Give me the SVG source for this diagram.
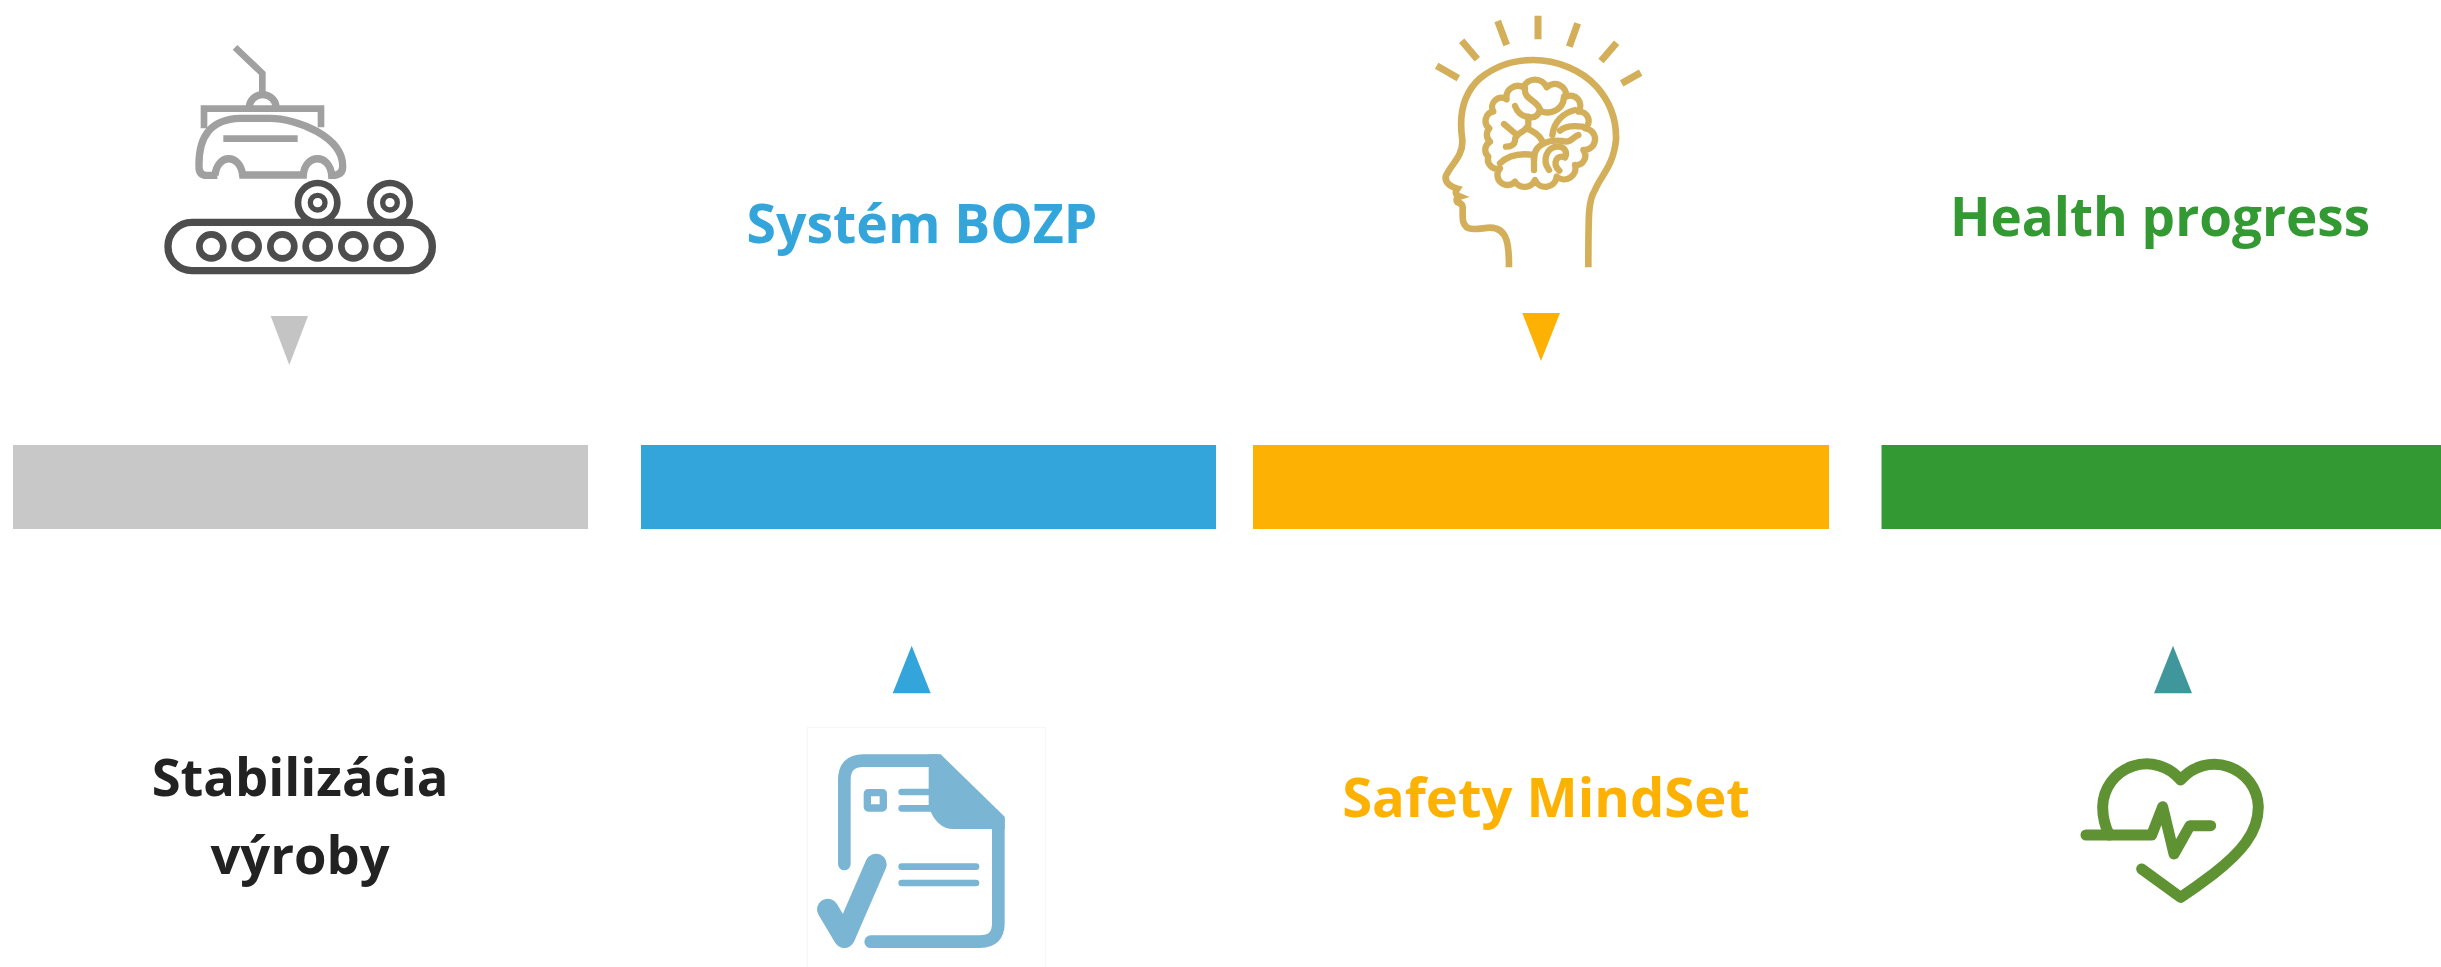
<svg xmlns="http://www.w3.org/2000/svg" width="2441" height="967" viewBox="0 0 2441 967">
<style>
.t{font-family:"Open Sans","Liberation Sans",sans-serif;font-weight:700;text-anchor:middle}
.l{fill:none;stroke-linecap:round;stroke-linejoin:round}
</style>
<rect width="2441" height="967" fill="#fff"/>
<g id="bars">
<rect x="13" y="445" width="575" height="84" fill="#c8c8c8"/>
<rect x="641" y="445" width="575" height="84" fill="#33a5db"/>
<rect x="1253" y="445" width="576" height="84" fill="#fdb102"/>
<rect x="1881.5" y="445" width="559.5" height="84" fill="#339933"/>
</g>
<g id="connectors">
<polygon points="270.7,316 308,316 289.3,365" fill="#c4c4c4"/>
<polygon points="1522.3,313 1560,313 1541,361" fill="#fdb102"/>
<polygon points="892.7,693.3 930.7,693.3 911.7,645.7" fill="#33a5db"/>
<polygon points="2154,693.3 2192,693.3 2173,645.7" fill="#3f979c"/>
</g>
<g id="icon-car" transform="translate(130,20) scale(.33333)">
<g fill="none" stroke="#a0a0a0" stroke-width="22">
<path d="M315,82 L397,160 V225" stroke-width="20"/>
<path d="M358,262 A40,38 0 0 1 438,262"/>
<path d="M222,325 V266 H573 V322" stroke-width="20"/>
<path d="M262,466 H230 Q207,466 207,440 C205,350 240,298 330,295 H420 C500,295 640,350 638,440 Q638,466 605,466 C600,400 525,400 520,465 H338 C330,400 262,400 255,466"/>
<path d="M280,356 H503" stroke-width="20"/>
</g>
<g fill="none" stroke="#4d4d4d" stroke-width="20">
<rect x="114" y="607" width="793" height="145" rx="72" stroke-width="22"/>
<circle cx="244" cy="679" r="36"/><circle cx="350" cy="679" r="36"/><circle cx="457" cy="679" r="36"/><circle cx="563" cy="679" r="36"/><circle cx="670" cy="679" r="36"/><circle cx="776" cy="679" r="36"/>
<circle cx="563" cy="548" r="59"/><circle cx="780" cy="548" r="59"/>
<circle cx="563" cy="548" r="22" stroke-width="16"/><circle cx="780" cy="548" r="22" stroke-width="16"/>
</g>
</g>
<g id="label-stabilizacia">
<text class="t" x="300" y="796" fill="#222" font-size="52.5">Stabilizácia</text>
<text class="t" x="300" y="874" fill="#222" font-size="52.5">výroby</text>
</g>
<g id="label-bozp"><text class="t" x="922" y="243" fill="#33a5db" font-size="53.5">Systém BOZP</text></g>
<g id="icon-doc" transform="translate(790,630) scale(.33333)">
<rect x="52" y="292" width="715" height="800" fill="none" stroke="#f6f6f6" stroke-width="3"/>
<g class="l" stroke="#7ab5d3" stroke-width="38">
<path d="M163,702 V450 Q163,392 220,392 H440"/>
<path d="M625,570 V880 Q625,935 570,935 H242"/>
<path d="M335,486 H418M335,535 H420M335,710 H558M335,759 H558" stroke-width="20"/>
<rect x="232" y="488" width="48" height="46" rx="3" stroke-width="22"/>
<path d="M113,838 L163,922 L258,703" stroke-width="64"/>
</g>
<path d="M416,373 H452 L644,560 V597 H490 Q440,597 416,530 Z" fill="#7ab5d3"/>
</g>
<g id="icon-head" transform="translate(1400,0) scale(.33333)">
<path d="M110,197 L175,235 M185,122 L232,178 M293,63 L320,135 M414,47 V118 M533,70 L508,140 M650,128 L603,183 M722,218 L665,250" stroke="#d4af5a" stroke-width="21" fill="none"/>
<path d="M327,802 C327,740 325,683 270,683 C240,683 188,705 188,650 V625 Q190,612 172,606 Q165,595 180,590 Q160,582 172,566 Q135,555 137,530 C150,495 190,470 187,420 C175,340 190,280 240,235 C290,195 345,180 400,180 C470,180 545,210 590,260 C630,305 650,360 648,420 C640,500 600,530 585,570 C565,600 565,640 565,802" fill="none" stroke="#d4af5a" stroke-width="20"/>
<g class="l" stroke="#d4af5a" stroke-width="19">
<path d="M300,505 A28,28 0 0 1 265,470 A28,28 0 0 1 270,425 A28,28 0 0 1 268,385 A28,28 0 0 1 280,335 A28,28 0 0 1 320,298 A34,34 0 0 1 370,262 A38,38 0 0 1 440,262 A34,34 0 0 1 498,290 A30,30 0 0 1 535,335 A28,28 0 0 1 555,385 A30,30 0 0 1 550,450 A28,28 0 0 1 525,495 A34,34 0 0 1 470,530 A34,34 0 0 1 405,540 A34,34 0 0 1 345,545 A28,28 0 0 1 300,505Z"/>
<path d="M300,490 C330,460 370,460 402,465 V510"/>
<path d="M402,480 C400,430 450,415 500,425 C515,425 520,410 535,405"/>
<path d="M345,318 C355,345 375,352 395,352 C405,352 415,345 420,330"/>
<path d="M375,265 C370,300 415,300 420,330 C430,345 490,340 492,290"/>
<path d="M385,350 V375 C380,395 345,400 345,420 C345,435 330,440 318,440"/>
<path d="M312,372 L345,400"/>
<path d="M378,385 C400,390 420,410 425,420"/>
<path d="M457,405 C462,365 490,338 525,330"/>
<path d="M480,392 C495,378 520,376 548,380"/>
<path d="M447,510 C425,480 440,440 475,440 C495,440 503,458 495,472"/>
<path d="M495,472 C470,462 455,490 478,512"/>
</g>
</g>
<g id="label-safety"><text class="t" x="1546" y="817" fill="#fdb102" font-size="54.3">Safety MindSet</text></g>
<g id="label-health"><text class="t" x="2160" y="236" fill="#339933" font-size="53">Health progress</text></g>
<g id="icon-heart" transform="translate(2040,630) scale(.33333)">
<g class="l" stroke="#5f9232" stroke-width="33">
<path d="M305,717 L422,802 Q470,770 520,732 C600,670 655,610 655,530 A132,132 0 0 0 422,450 A132,132 0 0 0 188,530 Q188,575 208,615"/>
<path d="M138,615 H335 L368,530 L402,672 L450,587 H512"/>
</g>
</g>
</svg>
